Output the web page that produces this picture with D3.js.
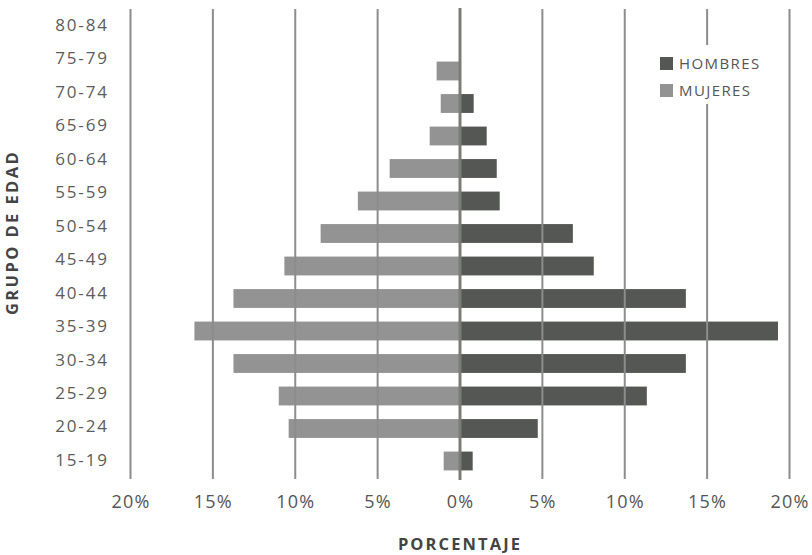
<!DOCTYPE html>
<html>
<head>
<meta charset="utf-8">
<script src="https://cdn.jsdelivr.net/npm/d3@7"></script>
<style>
  html, body { margin: 0; padding: 0; background: #fff; }
  svg { display: block; }
  text { font-family: "Open Sans", "Noto Sans", sans-serif; }
</style>
</head>
<body>
<svg id="chart" width="812" height="555"></svg>
<script>
const ageGroups = ["80-84","75-79","70-74","65-69","60-64","55-59","50-54","45-49","40-44","35-39","30-34","25-29","20-24","15-19"];
const hombres = [0, 0, 0.83, 1.62, 2.23, 2.41, 6.85, 8.12, 13.71, 19.3, 13.71, 11.34, 4.72, 0.77];
const mujeres = [0, 1.42, 1.17, 1.84, 4.27, 6.2, 8.46, 10.66, 13.75, 16.12, 13.75, 11.0, 10.4, 0.99];
const tickValues = [-20, -15, -10, -5, 0, 5, 10, 15, 20];
const tickLabels = ["20%","15%","10%","5%","0%","5%","10%","15%","20%"];
const seriesNames = ["HOMBRES", "MUJERES"];
const colors = { HOMBRES: "#555754", MUJERES: "#939393" };

const svg = d3.select("#chart");

const x = d3.scaleLinear().domain([-20, 20]).range([130.5, 789.5]);
const yBar = d3.scaleBand().domain(ageGroups).range([22.25, 477.25]).paddingInner(0.42).paddingOuter(0.21);
const yLabel = d3.scalePoint().domain(ageGroups).range([25, 460]);

// Bars
const rows = ageGroups.map((g, i) => ({ g, h: hombres[i], m: mujeres[i] }));
svg.append("g").selectAll("rect.m").data(rows).join("rect")
  .attr("x", d => x(-d.m)).attr("width", d => x(0) - x(-d.m))
  .attr("y", d => yBar(d.g)).attr("height", yBar.bandwidth())
  .attr("fill", colors.MUJERES);
svg.append("g").selectAll("rect.h").data(rows).join("rect")
  .attr("x", x(0)).attr("width", d => x(d.h) - x(0))
  .attr("y", d => yBar(d.g)).attr("height", yBar.bandwidth())
  .attr("fill", colors.HOMBRES);

// Grid lines (on top of bars)
svg.append("g").selectAll("line").data(tickValues.filter(v => v !== 0)).join("line")
  .attr("x1", d => x(d)).attr("x2", d => x(d))
  .attr("y1", 9).attr("y2", 479)
  .attr("stroke", "#8c8c8c").attr("stroke-width", 2);
svg.append("line")
  .attr("x1", x(0)).attr("x2", x(0)).attr("y1", 8).attr("y2", 480)
  .attr("stroke", "#7b7c7a").attr("stroke-width", 3);

// X axis labels
const xAxis = svg.append("g").attr("transform", "translate(0,495)")
  .call(d3.axisBottom(x).tickValues(tickValues).tickSize(0).tickFormat((d, i) => tickLabels[i]));
xAxis.select(".domain").remove();
xAxis.selectAll("text").attr("font-size", 18).attr("fill", "#555").attr("dy", "0.71em").attr("y", 0)
  .style("font-family", "'Open Sans', sans-serif").attr("letter-spacing", 1.2);

// Y axis labels (centered)
const yAxis = svg.append("g").attr("transform", "translate(82,0)")
  .call(d3.axisLeft(yLabel).tickSize(0));
yAxis.select(".domain").remove();
yAxis.selectAll("text").attr("x", 0).attr("text-anchor", "middle").attr("font-size", 17)
  .attr("fill", "#5c5c5c").style("font-family", "'Open Sans', sans-serif").attr("letter-spacing", 1.8);

// Axis titles
svg.append("text").attr("transform", "translate(18,232.5) rotate(-90)")
  .attr("text-anchor", "middle").attr("font-size", 16.5).attr("font-weight", "bold")
  .attr("fill", "#444").attr("letter-spacing", 2.4).text("GRUPO DE EDAD");
svg.append("text").attr("x", 460).attr("y", 550)
  .attr("text-anchor", "middle").attr("font-size", 16.5).attr("font-weight", "bold")
  .attr("fill", "#444").attr("letter-spacing", 2.1).text("PORCENTAJE");

// Legend
const legend = svg.append("g");
legend.append("rect").attr("x", 650).attr("y", 45).attr("width", 120).attr("height", 59).attr("fill", "#fff");
seriesNames.forEach((s, i) => {
  legend.append("rect").attr("x", 660).attr("y", 57 + i * 27).attr("width", 13).attr("height", 13).attr("fill", colors[s]);
  legend.append("text").attr("x", 679).attr("y", 63.5 + i * 27).attr("dy", "0.35em")
    .attr("font-size", 15).attr("fill", "#555").attr("letter-spacing", 1.4).text(s);
});
</script>
</body>
</html>
